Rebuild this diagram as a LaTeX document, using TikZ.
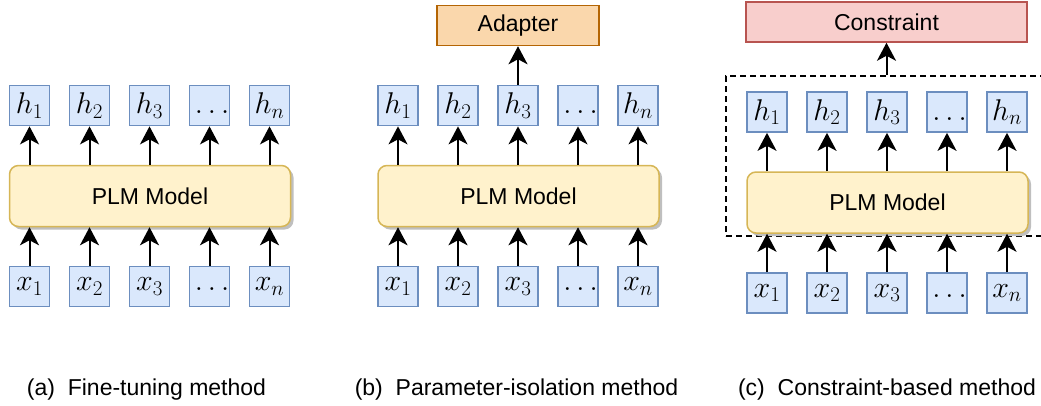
\documentclass[tikz,border=0pt]{standalone}
\usepackage{fix-cm}
\usepackage{fontspec}
\setmainfont{Liberation Sans}
\usetikzlibrary{arrows.meta,shadows}
\definecolor{bfill}{HTML}{DAE8FC}
\definecolor{bline}{HTML}{6C8EBF}
\definecolor{yfill}{HTML}{FFF2CC}
\definecolor{yline}{HTML}{D6B656}
\definecolor{ofill}{HTML}{FAD7AC}
\definecolor{oline}{HTML}{B46504}
\definecolor{rfill}{HTML}{F8CECC}
\definecolor{rline}{HTML}{B85450}
\tikzset{
  tok/.style={draw=bline, fill=bfill, line width=1.7pt, minimum width=40pt, minimum height=40pt, inner sep=0pt, font=\fontsize{30}{33}\selectfont},
  plm/.style={draw=yline, fill=yfill, line width=1.5pt, rounded corners=9pt, minimum width=281pt, minimum height=61pt, inner sep=0pt, font=\fontsize{23}{27}\selectfont, drop shadow={shadow xshift=3pt, shadow yshift=-3pt, fill=black!25, opacity=1}},
  topbox/.style={line width=1.5pt, minimum height=40pt, inner sep=0pt, font=\fontsize{23}{27}\selectfont},
  grpbox/.style={draw=black, line width=1.5pt, dash pattern=on 6pt off 4pt, minimum width=330pt, minimum height=160pt, inner sep=0pt},
  arr/.style={line width=2pt, -{Stealth[length=18pt,width=19pt,inset=5pt]}},
  captext/.style={anchor=base, inner sep=0pt, font=\fontsize{23}{27}\selectfont},
}
\begin{document}
\begin{tikzpicture}[x=1pt, y=-1pt]
\useasboundingbox (0,0) rectangle (1041,405);
% dashed group for panel (c)
\node[grpbox] (grp) at (891,156) {};
\foreach \p/\dx/\dy in {a/0/0, b/368.5/0, c/737.5/6.5}{
  \pgfmathsetmacro{\cx}{150+\dx}
  \node[plm] (plm\p) at (\cx, 196+\dy) {PLM Model};
  \foreach \i/\hl/\xl in {1/{$h_1$}/{$x_1$}, 2/{$h_2$}/{$x_2$}, 3/{$h_3$}/{$x_3$}, 4/{$\vphantom{h_1}\ldots$}/{$\vphantom{x_1}\ldots$}, 5/{$h_n$}/{$x_n$}}{
    \pgfmathsetmacro{\bx}{29.5+60*(\i-1)+\dx}
    \node[tok] (h\p\i) at (\bx, 105.5+\dy) {\hl};
    \node[tok] (x\p\i) at (\bx, 286.5+\dy) {\xl};
    \draw[arr] (h\p\i.south |- plm\p.north) -- (h\p\i.south);
    \draw[arr] (x\p\i.north) -- (x\p\i.north |- plm\p.south);
  }
}
% Adapter
\node[topbox, draw=oline, fill=ofill, minimum width=162pt] (adp) at (518,25.5) {Adapter};
\draw[arr] (hb3.north) -- (hb3.north |- adp.south);
% Constraint
\node[topbox, draw=rline, fill=rfill, minimum width=281pt] (con) at (886.5,22) {Constraint};
\draw[arr] (con.south |- grp.north) -- (con.south);
% captions
\node[captext] (capa) at (146.5,395) {(a)\ \ Fine-tuning method};
\node[captext] (capb) at (516.5,395) {(b)\ \ Parameter-isolation method};
\node[captext] (capc) at (887,395) {(c)\ \ Constraint-based method};
\end{tikzpicture}
\end{document}
